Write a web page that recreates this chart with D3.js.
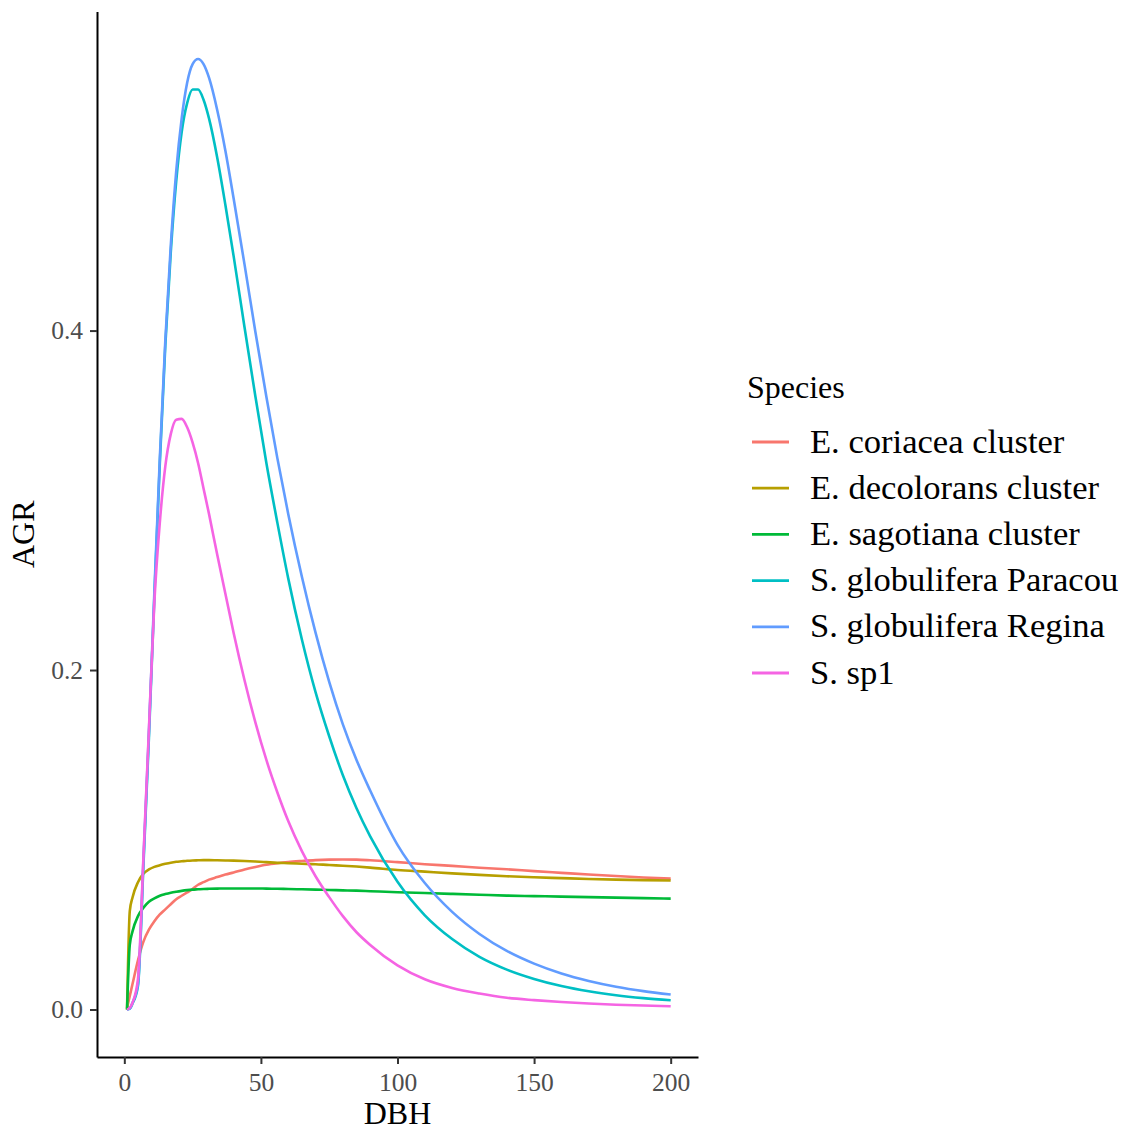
<!DOCTYPE html>
<html>
<head>
<meta charset="utf-8">
<script src="https://cdn.jsdelivr.net/npm/d3@7"></script>
<style>
  body { margin: 0; background: #ffffff; }
  text { font-family: "Liberation Serif", "Times New Roman", serif; }
</style>
</head>
<body>
<script>
// DBH grid shared by all species
var dbh = [1, 2, 3, 5, 7, 9, 11, 13, 15, 17, 19, 21, 23, 25, 27, 29, 31, 34, 37, 40,
  44, 48, 52, 56, 60, 65, 70, 75, 80, 85, 90, 100, 110, 120, 130, 140, 150, 160, 170, 180, 190, 200];

var speciesNames = ["E. coriacea cluster", "E. decolorans cluster", "E. sagotiana cluster",
  "S. globulifera Paracou", "S. globulifera Regina", "S. sp1"];

// AGR values, one array per species
var agrCoriacea = [0.001, 0.008, 0.015, 0.029, 0.040, 0.047, 0.052, 0.056, 0.059, 0.062, 0.065, 0.067, 0.069, 0.071, 0.0735, 0.075, 0.0765, 0.078, 0.0795, 0.0807,
  0.0825, 0.084, 0.0853, 0.0862, 0.0869, 0.0875, 0.088, 0.0883, 0.0884, 0.0883, 0.0879, 0.0868, 0.0856, 0.0846, 0.0835, 0.0826, 0.0815, 0.0805, 0.0795, 0.0786, 0.0778, 0.0771];
var agrDecolorans = [0.0, 0.058, 0.066, 0.075, 0.080, 0.0825, 0.084, 0.085, 0.0858, 0.0865, 0.087, 0.0873, 0.0876, 0.0878, 0.0879, 0.088, 0.088, 0.0879, 0.0878, 0.0877,
  0.0875, 0.0872, 0.0868, 0.0864, 0.0862, 0.0859, 0.0856, 0.0851, 0.0847, 0.0842, 0.0836, 0.0822, 0.0812, 0.0802, 0.0793, 0.0785, 0.0779, 0.0774, 0.0769, 0.0765, 0.0762, 0.076];
var agrSagotiana = [0.0, 0.038, 0.046, 0.055, 0.060, 0.0635, 0.0655, 0.067, 0.068, 0.0688, 0.0694, 0.0699, 0.0703, 0.0706, 0.0708, 0.071, 0.0711, 0.0712, 0.0713, 0.0713,
  0.0713, 0.0713, 0.0712, 0.0711, 0.071, 0.0708, 0.0706, 0.0704, 0.0702, 0.070, 0.0697, 0.0691, 0.0686, 0.0681, 0.0676, 0.0671, 0.0668, 0.0665, 0.0662, 0.0659, 0.0656, 0.0653];
var agrParacou = [0.0, 0.0005, 0.0035, 0.014, 0.085, 0.160, 0.243, 0.322, 0.391, 0.446, 0.488, 0.517, 0.534, 0.542, 0.542, 0.536, 0.525, 0.502, 0.474, 0.444,
  0.402, 0.361, 0.322, 0.287, 0.254, 0.218, 0.187, 0.161, 0.138, 0.1186, 0.102, 0.0752, 0.0555, 0.0415, 0.031, 0.0235, 0.018, 0.0138, 0.0107, 0.0084, 0.0067, 0.0054];
var agrRegina = [0.0, 0.0005, 0.004, 0.015, 0.088, 0.163, 0.246, 0.325, 0.394, 0.450, 0.494, 0.525, 0.546, 0.557, 0.560, 0.557, 0.549, 0.530, 0.506, 0.478,
  0.439, 0.399, 0.361, 0.325, 0.292, 0.255, 0.222, 0.193, 0.168, 0.147, 0.129, 0.097, 0.0745, 0.0575, 0.0445, 0.0345, 0.027, 0.0212, 0.0168, 0.0134, 0.0108, 0.0088];
var agrSp1 = [0.0, 0.001, 0.004, 0.018, 0.090, 0.165, 0.240, 0.287, 0.320, 0.339, 0.3475, 0.348, 0.343, 0.334, 0.322, 0.307, 0.292, 0.268, 0.245, 0.222,
  0.194, 0.169, 0.147, 0.128, 0.111, 0.0933, 0.0785, 0.0662, 0.055, 0.0455, 0.038, 0.026, 0.0178, 0.0127, 0.0094, 0.0069, 0.0055, 0.0044, 0.0035, 0.0028, 0.0023, 0.0019];

var xTicks = [0, 50, 100, 150, 200];
var yTicks = [0, 0.2, 0.4];

// ggplot default hue palette
var colors = ["#F8766D", "#B79F00", "#00BA38", "#00BFC4", "#619CFF", "#F564E3"];

var seriesValues = [agrCoriacea, agrDecolorans, agrSagotiana, agrParacou, agrRegina, agrSp1];

// SVG area
var svgWidth = 1125;
var svgHeight = 1132;

// panel edges (where the axis lines sit)
var panel = { left: 97, right: 698, top: 11.5, bottom: 1057 };

var svg = d3.select("body")
  .append("svg")
  .attr("width", svgWidth)
  .attr("height", svgHeight);

svg.append("rect")
  .attr("width", svgWidth)
  .attr("height", svgHeight)
  .attr("fill", "#ffffff");

// scales with ggplot's 5% expansion
var xMax = 200, yMax = 0.56;
var xScale = d3.scaleLinear()
  .domain([-0.05 * xMax, xMax * 1.05])
  .range([panel.left, panel.right]);

var yScale = d3.scaleLinear()
  .domain([-0.05 * yMax, yMax * 1.05])
  .range([panel.bottom, panel.top]);

// lines, drawn in factor order so S. sp1 ends on top
var line = d3.line()
  .x(function(d) { return xScale(d[0]); })
  .y(function(d) { return yScale(d[1]); })
  .curve(d3.curveMonotoneX);

var lineGroup = svg.append("g").attr("class", "lines");
seriesValues.forEach(function(vals, i) {
  var pts = dbh.map(function(x, j) { return [x, vals[j]]; });
  lineGroup.append("path")
    .datum(pts)
    .attr("fill", "none")
    .attr("stroke", colors[i])
    .attr("stroke-width", 2.6)
    .attr("stroke-linejoin", "round")
    .attr("d", line);
});

// axes
var bottomAxis = d3.axisBottom(xScale)
  .tickValues(xTicks)
  .tickSizeInner(7)
  .tickSizeOuter(0)
  .tickPadding(9)
  .tickFormat(d3.format("d"));

var leftAxis = d3.axisLeft(yScale)
  .tickValues(yTicks)
  .tickSizeInner(7)
  .tickSizeOuter(0)
  .tickPadding(7)
  .tickFormat(d3.format(".1f"));

var xAxisG = svg.append("g")
  .attr("transform", "translate(0," + panel.bottom + ")")
  .call(bottomAxis);

var yAxisG = svg.append("g")
  .attr("transform", "translate(" + panel.left + ",0)")
  .call(leftAxis);

[xAxisG, yAxisG].forEach(function(g) {
  g.select(".domain")
    .attr("stroke", "#000000")
    .attr("stroke-width", 2);
  g.selectAll(".tick line")
    .attr("stroke", "#333333")
    .attr("stroke-width", 2);
  g.selectAll(".tick text")
    .attr("fill", "#4D4D4D")
    .style("font-size", "25.5px")
    .style("font-family", "'Liberation Serif', serif");
});

// axis titles
svg.append("text")
  .attr("x", (panel.left + panel.right) / 2)
  .attr("y", 1124)
  .attr("text-anchor", "middle")
  .style("font-size", "32px")
  .attr("fill", "#000000")
  .text("DBH");

svg.append("text")
  .attr("transform", "translate(34," + (panel.top + panel.bottom) / 2 + ") rotate(-90)")
  .attr("text-anchor", "middle")
  .style("font-size", "32px")
  .attr("fill", "#000000")
  .text("AGR");

// legend
var legend = svg.append("g").attr("transform", "translate(747,0)");

legend.append("text")
  .attr("x", 0)
  .attr("y", 398)
  .style("font-size", "32px")
  .attr("fill", "#000000")
  .text("Species");

var keyStep = 46.2;
speciesNames.forEach(function(name, i) {
  var ky = 442 + i * keyStep;
  legend.append("line")
    .attr("x1", 5)
    .attr("x2", 42)
    .attr("y1", ky)
    .attr("y2", ky)
    .attr("stroke", colors[i])
    .attr("stroke-width", 2.8);
  legend.append("text")
    .attr("x", 63)
    .attr("y", ky + 10.5)
    .style("font-size", "34.6px")
    .attr("fill", "#000000")
    .text(name);
});
</script>
</body>
</html>
